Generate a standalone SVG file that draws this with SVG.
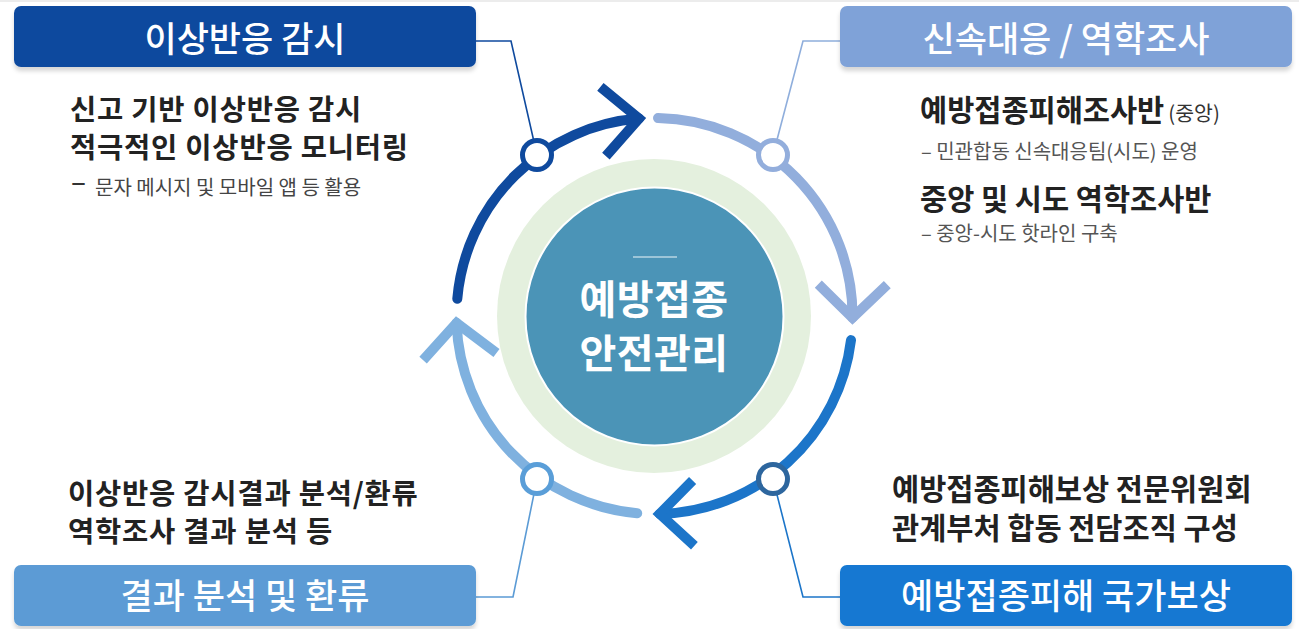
<svg xmlns="http://www.w3.org/2000/svg" width="1299" height="629" viewBox="0 0 1299 629">
<defs>
<filter id="sh" x="-5%" y="-20%" width="110%" height="150%">
<feDropShadow dx="0" dy="4" stdDeviation="2" flood-color="#000" flood-opacity="0.16"/>
</filter>
<style>
text{font-family:"Noto Sans CJK KR","Noto Sans",sans-serif}
.hd{font-size:35px;font-weight:500;fill:#fff;text-anchor:middle}
.b{font-size:29.5px;font-weight:700;fill:#222}
.b2{font-size:28.5px;font-weight:700;fill:#222;letter-spacing:0.8px}
.s{font-size:20px;font-weight:400;fill:#555}
.arc{fill:none;stroke-width:10;stroke-linecap:round}
.chev{fill:none;stroke-width:10;stroke-linecap:butt;stroke-linejoin:miter;stroke-miterlimit:10}
.con{fill:none;stroke-width:1.6}
.nd{fill:#fff;stroke-width:5}
</style>
</defs>
<rect x="0" y="0" width="1299" height="629" fill="#fff"/>
<rect x="0" y="0" width="1299" height="2" fill="#ececec"/>

<g id="connectors">
<polyline class="con" stroke="#0F4A9E" points="476,41 511,41 537,155"/>
<polyline class="con" stroke="#8FAEDC" points="840,41 803,41 773,155"/>
<polyline class="con" stroke="#1C75C9" points="840,597 803,597 773,479"/>
<polyline class="con" stroke="#5B9BD5" points="476,597 513,597 537,479"/>
</g>

<g id="center">
<circle cx="654" cy="316" r="157" fill="#E4F0DE"/>
<circle cx="654.5" cy="316.5" r="129" fill="#4B94B7" stroke="#fff" stroke-width="2"/>
<line x1="633" y1="257" x2="677" y2="257" stroke="#fff" stroke-width="1.2" opacity="0.9"/>
<text font-size="40" font-weight="700" fill="#fff" text-anchor="middle" letter-spacing="0.5"><tspan x="654" y="314">예방접종</tspan><tspan x="654" y="368">안전관리</tspan></text>
</g>

<g id="cycle">
<path class="arc" stroke="#0F4A9E" d="M457.3 298.7 A198 198 0 0 1 639 118.6"/>
<polyline class="chev" stroke="#0F4A9E" points="600.4,86.8 639,118.6 605.9,156.1"/>
<path class="arc" stroke="#92AEDC" d="M658 118 A198 198 0 0 1 852.5 317.7"/>
<polyline class="chev" stroke="#92AEDC" points="818.3,284.1 852.5,317.7 887.3,284.7"/>
<path class="arc" stroke="#1C75C9" d="M851 340.1 A198 198 0 0 1 659.7 513.9"/>
<polyline class="chev" stroke="#1C75C9" points="692.6,480.4 659.7,513.9 694.4,545.7"/>
<path class="arc" stroke="#7FB1DF" d="M637.2 513.2 A198 198 0 0 1 456.6 322.9"/>
<polyline class="chev" stroke="#7FB1DF" points="423.1,360.1 456.6,322.9 496.5,353"/>
</g>

<g id="node-tl-dot"><circle class="nd" cx="537" cy="155" r="14.5" stroke="#0F4A9E"/></g>
<g id="node-tr-dot"><circle class="nd" cx="773" cy="155" r="14.5" stroke="#93AEDC"/></g>
<g id="node-br-dot"><circle class="nd" cx="773" cy="479" r="14.5" stroke="#2D669E"/></g>
<g id="node-bl-dot"><circle class="nd" cx="537" cy="479" r="14.5" stroke="#5A9ED8"/></g>

<g id="monitoring">
<rect x="14" y="6" width="462" height="61" rx="7" fill="#0F4A9E" filter="url(#sh)"/>
<text class="hd" x="245" y="52">이상반응 감시</text>
<text class="b2"><tspan x="70" y="120">신고 기반 이상반응 감시</tspan><tspan x="70" y="158">적극적인 이상반응 모니터링</tspan></text>
<text x="71" y="190" font-size="21" font-weight="700" fill="#333" textLength="15" lengthAdjust="spacingAndGlyphs">–</text>
<text x="95" y="195" font-size="20" fill="#444">문자 메시지 및 모바일 앱 등 활용</text>
</g>

<g id="response">
<rect x="840" y="6" width="452" height="61" rx="7" fill="#7FA2D8" filter="url(#sh)"/>
<text class="hd" x="1066" y="52">신속대응 / 역학조사</text>
<text class="b" x="920" y="121">예방접종피해조사반<tspan font-size="20.5" font-weight="400" fill="#333" dx="4">(중앙)</tspan></text>
<text class="s" x="921" y="159">– 민관합동 신속대응팀(시도) 운영</text>
<text class="b" x="920" y="210">중앙 및 시도 역학조사반</text>
<text class="s" x="921" y="241">– 중앙-시도 핫라인 구축</text>
</g>

<g id="compensation">
<rect x="840" y="565" width="452" height="61" rx="7" fill="#1378D2" filter="url(#sh)"/>
<text class="hd" x="1066" y="609">예방접종피해 국가보상</text>
<text class="b"><tspan x="892" y="500">예방접종피해보상 전문위원회</tspan><tspan x="892" y="539">관계부처 합동 전담조직 구성</tspan></text>
</g>

<g id="feedback">
<rect x="14" y="565" width="462" height="61" rx="7" fill="#5B9BD5" filter="url(#sh)"/>
<text class="hd" x="245" y="609">결과 분석 및 환류</text>
<text class="b2"><tspan x="68" y="504">이상반응 감시결과 분석/환류</tspan><tspan x="68" y="542">역학조사 결과 분석 등</tspan></text>
</g>
</svg>
